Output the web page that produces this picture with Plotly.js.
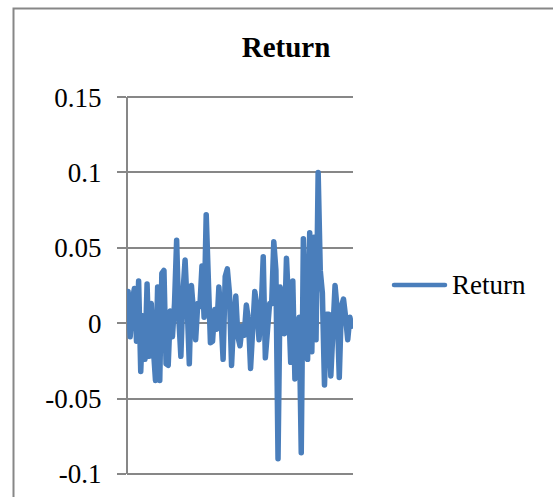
<!DOCTYPE html>
<html>
<head>
<meta charset="utf-8">
<script src="https://cdn.plot.ly/plotly-3.0.1.min.js"></script>
<style>
  html, body { margin: 0; padding: 0; background: #fff; }
  #chart { width: 553px; height: 497px; }
  /* rounded joins and ends on the series stroke and the key */
  #chart .scatterlayer .js-line,
  #chart .layer-above .shapelayer path {
    stroke-linejoin: round !important;
    stroke-linecap: round !important;
  }
</style>
</head>
<body>
<div id="chart"></div>
<script>
// Daily return series
const seriesName = "Return";
const returns = [
  0.021, -0.009, 0.015, 0.023, -0.012, 0.028, -0.032, 0.005, -0.024, 0.026,
  -0.022, 0.013, -0.017, -0.038, 0.024, -0.038, 0.033, 0.035, -0.027, -0.028,
  0.008, -0.009, 0.013, 0.055, 0.004, -0.022, 0.020, 0.042, 0.011, -0.027,
  0.025, 0.011, -0.011, 0.013, 0.011, 0.038, 0.004, 0.072, 0.037, -0.013,
  -0.012, 0.009, -0.004, 0.024, 0.004, -0.024, 0.031, 0.036, 0.020, -0.028,
  0.002, 0.018, -0.009,
  -0.015, -0.002, -0.008, 0.012, 0.002, -0.030, 0.004, 0.021, 0.011, -0.011,
  0.008, 0.044, -0.023, -0.004, 0.013, 0.013, 0.054, 0.035, -0.090,
  0.024, 0.013, -0.007, 0.043, 0.013, -0.026, 0.028, -0.037, -0.012, 0.004,
  -0.086, 0.056, 0.009, -0.024, 0.060, -0.019, 0.057, -0.011, 0.100,
  0.035, 0.020, -0.041, 0.006, 0.006, -0.035, -0.008, 0.025, 0.009, -0.036,
  0.011, 0.016, 0.004, -0.011, 0.004, -0.002
];
const periods = returns.map((_, i) => i + 1);

const yTickVals = [-0.1, -0.05, 0, 0.05, 0.1, 0.15];
const yTickText = ["-0.1", "-0.05", "0", "0.05", "0.1", "0.15"];

const lineBlue = "#4A7EBB";
const axisGrey = "#878787";
const serif = "Liberation Serif, Times New Roman, serif";

// value span of the plot box, padded a hair so the end gridlines are kept
const yMin = -0.1, yMax = 0.15, yPad = 0.0014;

const trace = {
  x: periods,
  y: returns,
  type: "scatter",
  mode: "lines",
  name: seriesName,
  line: { color: lineBlue, width: 5.5, shape: "linear" },
  showlegend: false,
  hoverinfo: "x+y"
};

const layout = {
  width: 553,
  height: 497,
  margin: { l: 127, r: 200, t: 95, b: 21, pad: 0 },
  paper_bgcolor: "#ffffff",
  plot_bgcolor: "#ffffff",
  font: { family: serif, size: 27, color: "#000000" },
  title: {
    text: "<b>Return</b>",
    font: { family: serif, size: 29, color: "#000000" },
    x: 286 / 553,
    xref: "container",
    xanchor: "center",
    y: 1 - 47 / 497,
    yref: "container",
    yanchor: "middle"
  },
  xaxis: {
    range: [0.5, periods.length + 0.5],
    showgrid: false,
    zeroline: false,
    showline: false,
    showticklabels: false,
    ticks: "",
    fixedrange: true
  },
  yaxis: {
    range: [yMin - yPad, yMax + yPad],
    tickvals: yTickVals,
    ticktext: yTickText,
    showgrid: true,
    gridcolor: axisGrey,
    gridwidth: 2,
    zeroline: true,
    zerolinecolor: axisGrey,
    zerolinewidth: 2,
    showline: false,
    ticks: "outside",
    ticklen: 9,
    tickwidth: 2,
    tickcolor: axisGrey,
    ticklabelstandoff: 10,
    tickfont: { family: serif, size: 27, color: "#000000" },
    fixedrange: true
  },
  shapes: [
    // chart frame
    {
      type: "rect", xref: "paper", yref: "paper",
      x0: (13.5 - 127) / 226, x1: 2,
      y0: -0.5, y1: (476 - 8.5) / 381,
      line: { color: axisGrey, width: 2 },
      fillcolor: "rgba(0,0,0,0)",
      layer: "below"
    },
    // vertical value axis, running from the bottom gridline to the top one
    {
      type: "line", xref: "paper", yref: "y",
      x0: 0, x1: 0, y0: yMin, y1: yMax,
      line: { color: axisGrey, width: 2 },
      layer: "below"
    },
    // legend key
    {
      type: "line", xref: "paper", yref: "paper",
      x0: (394 - 127) / 226, x1: (445 - 127) / 226,
      y0: (476 - 285) / 381, y1: (476 - 285) / 381,
      line: { color: lineBlue, width: 4.5 }
    }
  ],
  annotations: [
    {
      text: seriesName,
      xref: "paper", yref: "paper",
      x: (450 - 127) / 226, y: (476 - 285) / 381,
      xanchor: "left", yanchor: "middle",
      showarrow: false,
      font: { family: serif, size: 27, color: "#000000" }
    }
  ]
};

Plotly.newPlot("chart", [trace], layout, { displayModeBar: false, staticPlot: true });
</script>
</body>
</html>
